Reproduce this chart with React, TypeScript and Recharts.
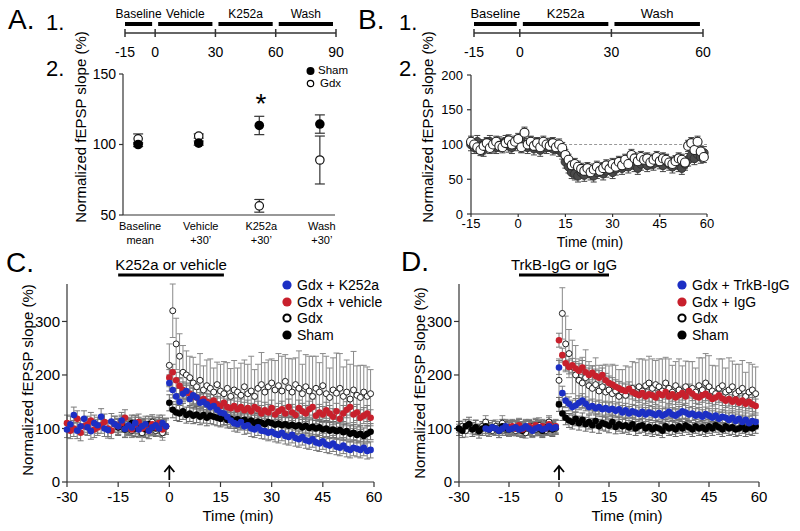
import React from 'react';
import { ScatterChart, Scatter, XAxis, YAxis, ErrorBar, ReferenceLine, ReferenceDot } from 'recharts';

const FONT = '"Liberation Sans", Arial, Helvetica, sans-serif';
const W = 800;
const H = 531;

// ---- A1 / B1 protocol timelines
const PHASES_A = ['Baseline', 'Vehicle', 'K252a', 'Wash'];
const PHASE_A_START = [-15, 0, 30, 60];
const PHASE_A_END = [0, 30, 60, 90];
const TICKS_A1 = [-15, 0, 30, 60, 90];

const PHASES_B = ['Baseline', 'K252a', 'Wash'];
const PHASE_B_START = [-15, 0, 30];
const PHASE_B_END = [0, 30, 60];
const TICKS_B1 = [-15, 0, 30, 60];

// ---- A2 summary
const CAT_A_TOP = ['Baseline', 'Vehicle', 'K252a', 'Wash'];
const CAT_A_BOTTOM = ['mean', '+30\u2019', '+30\u2019', '+30\u2019'];
const SHAM_A = [100, 101, 113.5, 114.5];
const SHAM_A_SEM = [1.5, 1.5, 6.5, 6.5];
const GDX_A = [104, 106, 56.5, 89];
const GDX_A_SEM = [3.5, 1.5, 4.5, 17];

// ---- B2 time course (min)
const TIME_B = [
  -15, -14, -13, -12, -11, -10, -9, -8, -7, -6, -5, -4, -3, -2, -1,
  0, 1, 2, 3, 4, 5, 6, 7, 8, 9, 10, 11, 12, 13, 14, 15, 16, 17, 18, 19,
  20, 21, 22, 23, 24, 25, 26, 27, 28, 29, 30, 31, 32, 33, 34, 35, 36, 37, 38, 39,
  40, 41, 42, 43, 44, 45, 46, 47, 48, 49, 50, 51, 52, 53, 54, 55, 56, 57, 58, 59,
];
const B_WHITE = [
  104, 100, 96, 92, 98, 102, 95, 100, 104, 98, 96, 102, 106, 100, 104,
  108, 96, 117, 100, 104, 98, 102, 96, 104, 100,
  98, 102, 96, 100, 95, 85, 78, 70, 72, 68,
  65, 62, 66, 60, 64, 68, 62, 66, 70, 65,
  72, 68, 75, 70, 78, 72, 85, 80, 76, 82,
  78, 80, 74, 78, 82, 76, 80, 78, 74, 72,
  76, 80, 78, 74, 98, 102, 92, 104, 90, 82,
];
const B_DARK = [
  100, 96, 104, 98, 92, 100, 104, 98, 96, 102, 100, 104, 98, 96, 100,
  104, 98, 100, 96, 102, 94, 100, 92, 98, 96,
  100, 94, 96, 92, 88, 75, 68, 60, 58, 55,
  60, 56, 62, 58, 55, 60, 64, 58, 62, 66,
  60, 65, 70, 66, 72, 68, 74, 70, 66, 72,
  76, 70, 74, 72, 78, 74, 70, 76, 72, 68,
  74, 70, 66, 72, 78, 84, 80, 86, 82, 88,
];
const B_SEM_WHITE = 8;
const B_SEM_DARK = 9;

// ---- C / D time courses (min)
const TIME_CD = [
  -30, -29, -28, -27, -26, -25, -24, -23, -22, -21, -20, -19, -18, -17, -16,
  -15, -14, -13, -12, -11, -10, -9, -8, -7, -6, -5, -4, -3, -2, -1,
  0, 1, 2, 3, 4, 5, 6, 7, 8, 9, 10, 11, 12, 13, 14, 15, 16, 17, 18, 19,
  20, 21, 22, 23, 24, 25, 26, 27, 28, 29, 30, 31, 32, 33, 34, 35, 36, 37, 38, 39,
  40, 41, 42, 43, 44, 45, 46, 47, 48, 49, 50, 51, 52, 53, 54, 55, 56, 57, 58, 59,
];
const _ = null;

const C_BLUE = [
  98, 108, 125, 96, 104, 118, 102, 95, 110, 106, 122, 100, 97, 113, 108,
  104, 115, 99, 106, 102, 110, 98, 104, 108, 96, 102, 106, 100, 110, 104,
  185, 172, 160, 150, 165, 170, 155, 162, 158, 148,
  150, 145, 140, 142, 135, 130, 128, 122, 115, 110,
  108, 112, 104, 106, 100, 98, 102, 96, 95, 92,
  94, 90, 88, 92, 86, 84, 88, 82, 80, 84,
  78, 76, 80, 74, 72, 76, 70, 68, 72, 66,
  64, 68, 62, 60, 64, 62, 60, 64, 58, 60,
];
const C_RED = [
  110, 96, 100, 118, 92, 104, 108, 115, 98, 102, 106, 112, 100, 96, 108,
  104, 110, 120, 102, 98, 106, 112, 100, 104, 96, 108, 102, 110, 98, 104,
  195, 205, 190, 180, 172, 168, 165, 160, 158, 152,
  155, 150, 148, 152, 145, 142, 148, 140, 138, 142,
  136, 140, 134, 138, 132, 140, 136, 128, 134, 130,
  138, 126, 132, 136, 128, 140, 130, 125, 138, 132,
  128, 136, 140, 124, 130, 126, 134, 128, 122, 132,
  118, 128, 135, 140, 126, 130, 120, 124, 128, 120,
];
const C_GDX = [
  _, _, _, _, _, _, _, _, _, _, _, _, _, _, _,
  _, _, _, 104, 96, 110, 100, 92, 106, 98, 112, 96, 108, 92, 104,
  218, 320, 258, 235, 205, 200, 195, 185, 178, 190,
  172, 180, 175, 168, 182, 170, 165, 175, 160, 172,
  168, 162, 178, 165, 170, 160, 175, 182, 168, 178,
  185, 172, 180, 170, 188, 176, 168, 182, 175, 165,
  178, 170, 160, 175, 168, 180, 165, 158, 172, 166,
  175, 160, 168, 155, 172, 162, 158, 168, 160, 165,
];
const C_GDX_SEM = [
  _, _, _, _, _, _, _, _, _, _, _, _, _, _, _,
  _, _, _, 12, 10, 14, 12, 16, 10, 12, 14, 10, 12, 14, 12,
  40, 50, 48, 42, 50, 45, 40, 48, 42, 50,
  45, 48, 55, 45, 42, 50, 60, 48, 52, 55,
  45, 60, 50, 55, 65, 50, 45, 60, 55, 50,
  45, 55, 60, 65, 50, 55, 62, 50, 70, 55,
  60, 65, 75, 60, 55, 60, 70, 55, 60, 75,
  65, 55, 60, 65, 72, 55, 60, 50, 55, 45,
];
const C_SHAM = [
  _, _, _, _, _, _, _, _, _, _, _, _, _, _, _,
  102, 108, 98, 104, 110, 100, 106, 102, 98, 108, 104, 100, 106, 102, 104,
  148, 135, 130, 128, 132, 125, 128, 124, 126, 122,
  125, 120, 124, 122, 120, 118, 122, 116, 118, 115,
  117, 114, 116, 112, 115, 110, 113, 111, 108, 112,
  110, 107, 109, 106, 108, 105, 107, 104, 106, 102,
  105, 101, 103, 100, 102, 98, 100, 96, 98, 95,
  97, 93, 95, 90, 92, 88, 90, 86, 90, 94,
];
const C_SEM = 15;

const D_BLUE = [
  _, _, _, _, _, _, _, _, 100, 98, 102, 100, 96, 100, 104,
  98, 100, 102, 98, 100, 104, 100, 96, 100, 102, 98, 100, 104, 100, 102,
  214, 166, 152, 146, 140, 143, 148, 152, 146, 140,
  142, 138, 140, 136, 138, 135, 137, 133, 136, 130,
  134, 128, 132, 130, 127, 131, 126, 130, 128, 125,
  129, 124, 127, 131, 126, 124, 128, 132, 130, 126,
  128, 124, 126, 122, 127, 124, 120, 124, 118, 122,
  120, 116, 120, 114, 118, 112, 116, 110, 114, 112,
];
const D_RED = [
  _, _, _, _, _, _, _, _, _, _, _, _, _, _, _,
  102, 104, 100, 106, 98, 102, 104, 100, 106, 102, 104, 100, 108, 102, 104,
  265, 237, 222, 215, 218, 212, 208, 214, 205, 200,
  204, 198, 195, 200, 190, 185, 182, 178, 175, 172,
  170, 174, 168, 165, 162, 166, 160, 164, 162, 158,
  165, 162, 168, 160, 164, 158, 162, 166, 160, 170,
  165, 160, 158, 162, 165, 160, 155, 158, 162, 156,
  152, 155, 150, 154, 148, 152, 146, 150, 145, 142,
];
const D_GDX = [
  100, 104, 96, 108, 100, 102, 98, 104, 112, 100, 96, 104, 100, 110, 98,
  102, 100, 96, 104, 100, 92, 100, 104, 98, 106, 100, 96, 112, 104, 100,
  190, 315, 258, 240, 215, 200, 190, 185, 195, 180,
  175, 182, 170, 178, 168, 172, 165, 170, 160, 168,
  162, 170, 175, 165, 178, 170, 180, 185, 175, 182,
  178, 170, 185, 175, 168, 180, 172, 165, 178, 170,
  175, 168, 180, 172, 185, 178, 170, 165, 175, 180,
  168, 172, 178, 165, 170, 175, 160, 168, 172, 165,
];
const D_GDX_SEM = [
  8, 10, 12, 8, 10, 14, 10, 8, 12, 10, 8, 12, 10, 14, 8,
  10, 12, 10, 8, 12, 10, 8, 10, 12, 14, 10, 8, 12, 10, 8,
  40, 48, 52, 45, 50, 55, 40, 48, 52, 45,
  42, 50, 48, 40, 52, 45, 55, 48, 50, 42,
  55, 45, 50, 58, 52, 60, 48, 50, 55, 45,
  52, 60, 48, 55, 50, 45, 58, 52, 48, 55,
  50, 45, 52, 60, 55, 58, 48, 52, 55, 50,
  45, 60, 48, 55, 50, 52, 45, 55, 48, 50,
];
const D_SHAM = [
  100, 96, 104, 108, 98, 102, 95, 100, 104, 98, 102, 100, 96, 104, 100,
  98, 102, 100, 104, 96, 100, 102, 98, 104, 100, 96, 102, 100, 98, 102,
  145, 128, 120, 115, 112, 118, 110, 116, 108, 112,
  106, 114, 104, 110, 108, 105, 112, 103, 108, 104,
  106, 102, 108, 100, 104, 106, 100, 103, 98, 102,
  100, 96, 104, 100, 102, 98, 104, 100, 106, 102,
  98, 104, 100, 102, 98, 104, 100, 106, 102, 98,
  104, 100, 102, 98, 100, 104, 98, 102, 100, 104,
];
const D_SEM = 13;

const LEGEND_C = ['Gdx + K252a', 'Gdx + vehicle', 'Gdx', 'Sham'];
const LEGEND_D = ['Gdx + TrkB-IgG', 'Gdx + IgG', 'Gdx', 'Sham'];

const BLUE = '#1c2fc4';
const RED = '#c8202c';

type Pt = { t: number; v: number; e: number };
const points = (times: number[], vals: (number | null)[], sem: number | (number | null)[]): Pt[] =>
  times
    .map((t, i) => ({ t, v: vals[i] as number, e: Array.isArray(sem) ? (sem[i] as number) : sem }))
    .filter((p) => p.v != null);

const box = (x0: number, x1: number, y0: number, y1: number, yw: number, xh: number) => ({
  top: y0,
  left: x0 - yw,
  right: W - x1,
  bottom: H - y1 - xh,
});

const dot = (r: number, fill: string, stroke: string, sw: number) => (p: any) =>
  <circle cx={p.cx} cy={p.cy} r={r} fill={fill} stroke={stroke} strokeWidth={sw} />;

const Layer = ({ children }: { children: React.ReactNode }) => (
  <div style={{ position: 'absolute', left: 0, top: 0, width: W, height: H }}>{children}</div>
);

const Txt = ({ x, y, size, children, anchor = 'middle' }: any) => (
  <div
    style={{
      position: 'absolute', left: x, top: y, fontSize: size, lineHeight: 1, whiteSpace: 'nowrap',
      transform: anchor === 'middle' ? 'translate(-50%,-50%)' : 'translate(0,-50%)',
    }}
  >
    {children}
  </div>
);

const VLabel = ({ x, y, size = 15 }: any) => (
  <div
    style={{
      position: 'absolute', left: x, top: y, fontSize: size, lineHeight: 1, whiteSpace: 'nowrap',
      transform: 'translate(-50%,-50%) rotate(-90deg)',
    }}
  >
    Normalized fEPSP slope (%)
  </div>
);

const axisStroke = { stroke: '#333', strokeWidth: 1.2 };
const tickStyle = (size: number) => ({ fontSize: size, fill: '#000', fontFamily: FONT });

function Timeline({ phases, starts, ends, ticks, domain, x0, x1, inset, labelSize }: any) {
  return (
    <Layer>
      <ScatterChart width={W} height={H} margin={box(x0, x1, 5, 37, 0, 30)}>
        <XAxis type="number" dataKey="t" domain={domain} ticks={ticks} interval={0} allowDataOverflow
          axisLine={false} tickLine={false} tickSize={0} tickMargin={10} height={30} tick={tickStyle(14)} />
        <YAxis type="number" dataKey="v" domain={[0, 32]} hide width={0} allowDataOverflow />
        <Scatter data={ticks.map((t: number) => ({ t, v: 4 }))} shape={() => <g />} isAnimationActive={false} />
        <ReferenceLine y={4} stroke="#333" strokeWidth={1.5} />
        {ticks.map((t: number) => (
          <ReferenceLine key={t} segment={[{ x: t, y: 0 }, { x: t, y: 8 }]} stroke="#333" strokeWidth={1.5} />
        ))}
        {phases.map((p: string, i: number) => (
          <ReferenceLine key={p}
            segment={[{ x: starts[i] + (i ? inset : 0), y: 13 }, { x: ends[i] - inset, y: 13 }]}
            stroke="#000" strokeWidth={4}
            label={{ value: p, position: 'top', offset: 6, fontSize: labelSize, fill: '#000', fontFamily: FONT }} />
        ))}
      </ScatterChart>
    </Layer>
  );
}

const CatTick = ({ x, y, payload }: any) => (
  <text x={x + 2} y={y} textAnchor="middle" fontSize={11} fontFamily={FONT} fill="#000">
    <tspan x={x + 2} dy={7}>{CAT_A_TOP[payload.value]}</tspan>
    <tspan x={x + 2} dy={13.5}>{CAT_A_BOTTOM[payload.value]}</tspan>
  </text>
);

function PanelA2() {
  const sham = SHAM_A.map((v, i) => ({ t: i, v, e: SHAM_A_SEM[i] }));
  const gdx = GDX_A.map((v, i) => ({ t: i, v, e: GDX_A_SEM[i] }));
  return (
    <Layer>
      <ScatterChart width={W} height={H} margin={box(123, 335, 74, 215, 50, 40)}>
        <XAxis type="number" dataKey="t" domain={[-0.25, 3.25]} ticks={[0, 1, 2, 3]} interval={0}
          axisLine={axisStroke} tickLine={false} height={40} tick={<CatTick />} />
        <YAxis type="number" dataKey="v" domain={[50, 150]} ticks={[50, 100, 150]} interval={0} width={50}
          axisLine={axisStroke} tickLine={axisStroke} tickSize={4} tickMargin={3} tick={tickStyle(14)} />
        <Scatter data={gdx} shape={dot(4.2, '#fff', '#111', 1.2)} isAnimationActive={false}>
          <ErrorBar dataKey="e" direction="y" width={5} stroke="#333" strokeWidth={1.2} isAnimationActive={false} />
        </Scatter>
        <Scatter data={sham} shape={dot(4.8, '#000', '#000', 0)} isAnimationActive={false}>
          <ErrorBar dataKey="e" direction="y" width={5} stroke="#333" strokeWidth={1.2} isAnimationActive={false} />
        </Scatter>
      </ScatterChart>
    </Layer>
  );
}

function PanelB2() {
  return (
    <Layer>
      <ScatterChart width={W} height={H} margin={box(471, 707, 75, 214, 40, 30)}>
        <XAxis type="number" dataKey="t" domain={[-15, 60]} ticks={[-15, 0, 15, 30, 45, 60]} interval={0}
          axisLine={axisStroke} tickLine={axisStroke} tickSize={3} tickMargin={2} height={30} tick={tickStyle(13)} />
        <YAxis type="number" dataKey="v" domain={[0, 200]} ticks={[0, 50, 100, 150, 200]} interval={0} width={40}
          axisLine={axisStroke} tickLine={axisStroke} tickSize={4} tickMargin={4} tick={tickStyle(13)} />
        <ReferenceLine segment={[{ x: 13, y: 100 }, { x: 60, y: 100 }]} stroke="#999" strokeDasharray="3 2" />
        <Scatter data={points(TIME_B, B_DARK, B_SEM_DARK)} shape={dot(4.3, '#4a4a4a', '#333', 1)} isAnimationActive={false}>
          <ErrorBar dataKey="e" direction="y" width={3} stroke="#444" strokeWidth={1} isAnimationActive={false} />
        </Scatter>
        <Scatter data={points(TIME_B, B_WHITE, B_SEM_WHITE)} shape={dot(4.5, '#fff', '#222', 1.1)} isAnimationActive={false}>
          <ErrorBar dataKey="e" direction="y" width={3} stroke="#444" strokeWidth={1} isAnimationActive={false} />
        </Scatter>
      </ScatterChart>
    </Layer>
  );
}

const arrow = (p: any) => (
  <g>
    <line x1={p.cx} y1={p.cy - 2} x2={p.cx} y2={p.cy - 16} stroke="#000" strokeWidth={1.8} />
    <path d={`M${p.cx - 5},${p.cy - 10} L${p.cx},${p.cy - 16} L${p.cx + 5},${p.cy - 10}`} fill="none" stroke="#000" strokeWidth={1.8} />
  </g>
);

function TimeCourse({ x0, x1, blue, red, gdx, gdxSem, sham, sem, drug, drugRange }: any) {
  return (
    <Layer>
      <ScatterChart width={W} height={H} margin={box(x0, x1, 284, 482, 40, 34)}>
        <XAxis type="number" dataKey="t" domain={[-30, 60]} ticks={[-30, -15, 0, 15, 30, 45, 60]} interval={0}
          axisLine={axisStroke} tickLine={axisStroke} tickSize={5} tickMargin={4} height={34} tick={tickStyle(15)} />
        <YAxis type="number" dataKey="v" domain={[0, 370]} ticks={[0, 100, 200, 300]} interval={0} width={40}
          axisLine={axisStroke} tickLine={axisStroke} tickSize={5} tickMargin={2} tick={tickStyle(15)} allowDataOverflow />
        <ReferenceLine ifOverflow="visible" segment={[{ x: drugRange[0], y: 387 }, { x: drugRange[1], y: 387 }]}
          stroke="#000" strokeWidth={3}
          label={{ value: drug, position: 'top', offset: 5, fontSize: 15, fill: '#000', fontFamily: FONT }} />
        <ReferenceDot x={0} y={0} r={0} shape={arrow} ifOverflow="visible" />
        <Scatter data={points(TIME_CD, gdx, gdxSem)} shape={dot(3, '#fff', '#222', 1)} isAnimationActive={false}>
          <ErrorBar dataKey="e" direction="y" width={3} stroke="#8a8a8a" strokeWidth={1} isAnimationActive={false} />
        </Scatter>
        <Scatter data={points(TIME_CD, sham, sem)} shape={dot(3.3, '#000', '#000', 0)} isAnimationActive={false}>
          <ErrorBar dataKey="e" direction="y" width={3} stroke="#666" strokeWidth={1} isAnimationActive={false} />
        </Scatter>
        <Scatter data={points(TIME_CD, red, sem)} shape={dot(3.3, RED, RED, 0)} isAnimationActive={false}>
          <ErrorBar dataKey="e" direction="y" width={3} stroke="#7a7a7a" strokeWidth={1} isAnimationActive={false} />
        </Scatter>
        <Scatter data={points(TIME_CD, blue, sem)} shape={dot(3.3, BLUE, BLUE, 0)} isAnimationActive={false}>
          <ErrorBar dataKey="e" direction="y" width={3} stroke="#7a7a7a" strokeWidth={1} isAnimationActive={false} />
        </Scatter>
      </ScatterChart>
    </Layer>
  );
}

const Swatch = ({ i }: { i: number }) => {
  const fills = [BLUE, RED, '#fff', '#000'];
  return (
    <svg width={12} height={12} style={{ display: 'block' }}>
      <circle cx={6} cy={6} r={i === 2 ? 3.6 : 4.6} fill={fills[i]} stroke={i === 2 ? '#000' : fills[i]} strokeWidth={i === 2 ? 2 : 0} />
    </svg>
  );
};

const Legend4 = ({ x, labels }: { x: number; labels: string[] }) => (
  <>
    {labels.map((l, i) => (
      <div key={l} style={{ position: 'absolute', left: x - 6, top: 285 + i * 16.7, transform: 'translateY(-50%)', display: 'flex', alignItems: 'center', gap: 4, fontSize: 14, lineHeight: 1, whiteSpace: 'nowrap' }}>
        <Swatch i={i} />
        <span>{l}</span>
      </div>
    ))}
  </>
);

export default function App() {
  return (
    <div style={{ position: 'absolute', left: 0, top: 0, width: W, height: H, background: '#fff', overflow: 'hidden', fontFamily: FONT, color: '#000' }}>
      {/* panel letters */}
      <Txt x={8} y={20} size={28} anchor="start">A.</Txt>
      <Txt x={46} y={23} size={22} anchor="start">1.</Txt>
      <Txt x={46} y={69} size={22} anchor="start">2.</Txt>
      <Txt x={358} y={20} size={28} anchor="start">B.</Txt>
      <Txt x={399} y={23} size={22} anchor="start">1.</Txt>
      <Txt x={399} y={69} size={22} anchor="start">2.</Txt>
      <Txt x={6} y={263} size={28} anchor="start">C.</Txt>
      <Txt x={401} y={262} size={28} anchor="start">D.</Txt>

      <Timeline phases={PHASES_A} starts={PHASE_A_START} ends={PHASE_A_END} ticks={TICKS_A1}
        domain={[-15, 90]} x0={125} x1={336} inset={1.5} labelSize={12} />
      <Timeline phases={PHASES_B} starts={PHASE_B_START} ends={PHASE_B_END} ticks={TICKS_B1}
        domain={[-15, 60]} x0={474} x1={703} inset={1} labelSize={13} />

      <PanelA2 />
      <VLabel x={80} y={127} />
      <Txt x={261} y={104} size={28}>*</Txt>
      <div style={{ position: 'absolute', left: 306, top: 66 }}>
        <svg width={10} height={24} style={{ display: 'block' }}>
          <circle cx={4.5} cy={5} r={4} fill="#000" />
          <circle cx={4.5} cy={17.5} r={3.2} fill="#fff" stroke="#000" strokeWidth={1.2} />
        </svg>
      </div>
      <Txt x={318} y={71} size={11.5} anchor="start">Sham</Txt>
      <Txt x={320} y={84} size={11.5} anchor="start">Gdx</Txt>

      <PanelB2 />
      <VLabel x={427} y={127} />
      <Txt x={590} y={242} size={14}>Time (min)</Txt>

      <TimeCourse x0={67} x1={374} blue={C_BLUE} red={C_RED} gdx={C_GDX} gdxSem={C_GDX_SEM} sham={C_SHAM}
        sem={C_SEM} drug="K252a or vehicle" drugRange={[-15, 16]} />
      <VLabel x={27} y={380} />
      <Txt x={238} y={515} size={15}>Time (min)</Txt>
      <Legend4 x={287} labels={LEGEND_C} />

      <TimeCourse x0={459} x1={759} blue={D_BLUE} red={D_RED} gdx={D_GDX} gdxSem={D_GDX_SEM} sham={D_SHAM}
        sem={D_SEM} drug="TrkB-IgG or IgG" drugRange={[-12, 15]} />
      <VLabel x={419} y={383} />
      <Txt x={627} y={515} size={15}>Time (min)</Txt>
      <Legend4 x={682} labels={LEGEND_D} />
    </div>
  );
}
